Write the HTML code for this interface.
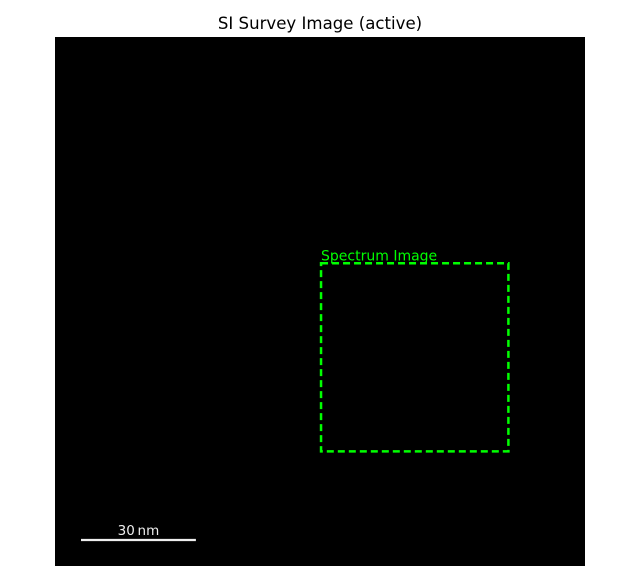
<!DOCTYPE html>
<html><head><meta charset="utf-8"><style>
html,body{margin:0;padding:0;background:#fff;}
svg{display:block;font-family:"DejaVu Sans","Liberation Sans",sans-serif;}
</style></head><body>
<svg width="640" height="581" viewBox="0 0 640 581">
<text x="320" y="29" text-anchor="middle" font-size="16.6" fill="#000">SI Survey Image (active)</text>
<rect x="55" y="37" width="530" height="529" fill="#000"/>
<g id="overlay"></g>
</svg>
<script>
// image extent in pixels of the survey (data units)
const imageSize = [512, 512];
const roiLabels = ["Spectrum Image"];
const roiX = [257];   // left, data px
const roiY = [219];   // top, data px
const roiW = [181];
const roiH = [182];
const scaleBarNm = [30];
const scaleBarLen = [111]; // data px
const plot = {x0:55, y0:37, w:530, h:529};
function sx(v){return plot.x0 + v/imageSize[0]*plot.w;}
function sy(v){return plot.y0 + v/imageSize[1]*plot.h;}
const NS="http://www.w3.org/2000/svg";
const g=document.getElementById('overlay');
roiX.forEach((x,i)=>{
  const r=document.createElementNS(NS,'rect');
  r.setAttribute('x',sx(x));r.setAttribute('y',sy(roiY[i]));
  r.setAttribute('width',sx(x+roiW[i])-sx(x));r.setAttribute('height',sy(roiY[i]+roiH[i])-sy(roiY[i]));
  r.setAttribute('fill','none');r.setAttribute('stroke','#00ff00');r.setAttribute('stroke-width','2.5');
  r.setAttribute('stroke-dasharray','7 4');
  
  
  g.appendChild(r);
  const t=document.createElementNS(NS,'text');
  t.setAttribute('x',sx(x));t.setAttribute('y',sy(roiY[i])-3);
  t.setAttribute('font-size','14');t.setAttribute('fill','#00ff00');
  t.textContent=roiLabels[i];
  
  
  g.appendChild(t);
});
const bx0=81, by=540;
const bw=sx(scaleBarLen[0])-sx(0);
const l=document.createElementNS(NS,'line');
l.setAttribute('x1',bx0);l.setAttribute('x2',bx0+bw);l.setAttribute('y1',by);l.setAttribute('y2',by);
l.setAttribute('stroke','#eeeeee');l.setAttribute('stroke-width','2.2');


g.appendChild(l);
const st=document.createElementNS(NS,'text');
st.setAttribute('x',bx0+bw/2);st.setAttribute('y',535);st.setAttribute('text-anchor','middle');
st.setAttribute('font-size','13.5');st.setAttribute('fill','#eeeeee');
st.textContent=scaleBarNm[0]+'\u2009nm';


g.appendChild(st);
</script>
</body></html>
